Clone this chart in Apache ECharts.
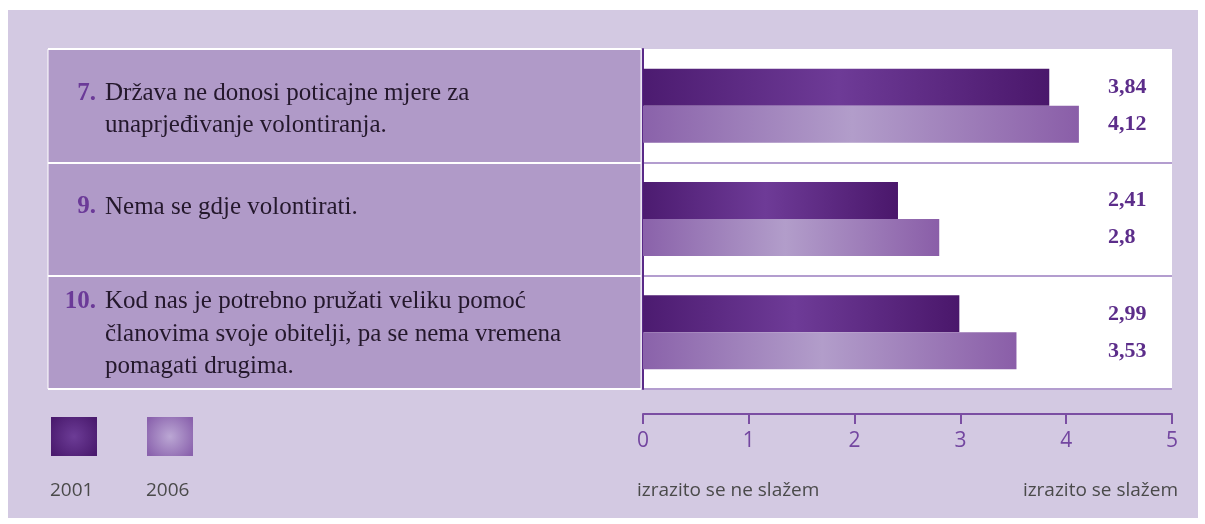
<!DOCTYPE html>
<html><head><meta charset="utf-8">
<script src="https://cdn.jsdelivr.net/npm/echarts@6/dist/echarts.min.js"></script>
<style>
html,body{margin:0;padding:0;background:#fff;}
#panel{position:absolute;left:8px;top:10px;width:1190px;height:508px;background:#d3c9e2;}
#chart{position:absolute;left:0;top:0;width:1205px;height:524px;}
</style></head>
<body><div id="panel"></div><div id="chart"></div>
<script>
// ---- data ----
const itemNumbers = ['7.', '9.', '10.'];
const categories = [
  'Država ne donosi poticajne mjere za\nunaprjeđivanje volontiranja.',
  'Nema se gdje volontirati.',
  'Kod nas je potrebno pružati veliku pomoć\nčlanovima svoje obitelji, pa se nema vremena\npomagati drugima.'
];
const seriesNames = ['2001', '2006'];
const values2001 = [3.84, 2.41, 2.99];
const values2006 = [4.12, 2.8, 3.53];
const xMin = 0, xMax = 5, xStep = 1;
const axisEndLabels = ['izrazito se ne slažem', 'izrazito se slažem'];

// ---- styles ----
const BAR_W = 37;
const LINE_H = 32.5;
const textNudge = [4, -12, 2];
const serif = '"Liberation Serif", "DejaVu Serif", serif';
const sans = '"Open Sans", "Noto Sans", sans-serif';
const lg = (c) => new echarts.graphic.LinearGradient(0, 0, 1, 0, [
  {offset: 0, color: c[0]}, {offset: 0.48, color: c[1]}, {offset: 1, color: c[2]}]);
const rg = (c) => new echarts.graphic.RadialGradient(0.5, 0.5, 0.7, [
  {offset: 0, color: c[0]}, {offset: 1, color: c[1]}]);
const darkStops = ['#4c1b70', '#6e3b97', '#4a176b'];
const lightStops = ['#8a62aa', '#b29dca', '#8a5ea8'];

const chart = echarts.init(document.getElementById('chart'));
const option = {
  animation: false,
  grid: [
    {left: 643, right: 33, top: 49, bottom: 135, show: true, backgroundColor: '#ffffff', borderWidth: 0},
    {left: 48, right: 564, top: 49, bottom: 135, show: true, backgroundColor: '#b09ac8', borderColor: '#ffffff', borderWidth: 1}
  ],
  xAxis: [
    {type: 'value', gridIndex: 0, min: xMin, max: xMax, interval: xStep, offset: 25,
     axisLine: {show: true, lineStyle: {color: '#7b4ea3', width: 2}},
     axisTick: {show: true, length: 10, lineStyle: {color: '#7b4ea3', width: 2}},
     axisLabel: {margin: 17, color: '#7346a0', fontSize: 21, fontFamily: sans},
     splitLine: {show: false}},
    {type: 'value', gridIndex: 1, min: 0, max: 1, show: false}
  ],
  yAxis: [
    {type: 'category', gridIndex: 0, data: itemNumbers, inverse: true,
     axisLine: {show: true, lineStyle: {color: '#5a2a88', width: 2}},
     axisTick: {show: false}, axisLabel: {show: false},
     splitLine: {show: true, interval: (idx) => idx > 0 && idx < itemNumbers.length, lineStyle: {color: '#b39dcf', width: 2}}},
    {type: 'category', gridIndex: 1, data: itemNumbers, inverse: true,
     axisLine: {show: false}, axisTick: {show: false}, axisLabel: {show: false},
     splitLine: {show: true, lineStyle: {color: '#ffffff', width: 2}}}
  ],
  series: [
    {name: seriesNames[0], type: 'bar', xAxisIndex: 0, yAxisIndex: 0, data: values2001,
     barWidth: BAR_W, barGap: '0%', itemStyle: {color: lg(darkStops)}},
    {name: seriesNames[1], type: 'bar', xAxisIndex: 0, yAxisIndex: 0, data: values2006,
     barWidth: BAR_W, barGap: '0%', itemStyle: {color: lg(lightStops)}}
  ]
};
chart.setOption(option);

const g = [];
const allVals = [values2001, values2006];
itemNumbers.forEach((num, i) => {
  const cy = chart.convertToPixel({yAxisIndex: 1}, i) + textNudge[i];
  const lines = categories[i].split('\n').length;
  const firstY = cy - (lines - 1) * LINE_H / 2;
  g.push({type: 'text', x: 96, y: firstY, style: {text: num, align: 'right', verticalAlign: 'middle',
    font: 'bold 25px ' + serif, fill: '#6b3a98'}});
  g.push({type: 'text', x: 105, y: cy, style: {text: categories[i], align: 'left', verticalAlign: 'middle',
    font: '25px ' + serif, fill: '#24182c', lineHeight: LINE_H}});
  const bc = chart.convertToPixel({yAxisIndex: 0}, i);
  allVals.forEach((arr, s) => {
    const y = bc + (s === 0 ? -BAR_W / 2 : BAR_W / 2);
    g.push({type: 'text', x: 1108, y: y, style: {text: String(arr[i]).replace('.', ','), align: 'left',
      verticalAlign: 'middle', font: 'bold 22px ' + serif, fill: '#5c2d8a'}});
  });
});
// legend
[[['#6c3c96', '#4a1a6e'], 51], [['#bba7d4', '#8a62ad'], 147]].forEach((it, s) => {
  g.push({type: 'rect', shape: {x: it[1], y: 417, width: 46, height: 39}, style: {fill: rg(it[0])}});
  g.push({type: 'text', x: it[1] - 1, y: 491, style: {text: seriesNames[s], align: 'left', verticalAlign: 'middle',
    font: '19px ' + sans, fill: '#4a4a4a'}});
});
g.push({type: 'text', x: 637, y: 491, style: {text: axisEndLabels[0], align: 'left', verticalAlign: 'middle',
  font: '19px ' + sans, fill: '#4a4a4a'}});
g.push({type: 'text', x: 1178, y: 491, style: {text: axisEndLabels[1], align: 'right', verticalAlign: 'middle',
  font: '19px ' + sans, fill: '#4a4a4a'}});
chart.setOption({graphic: g});
</script></body></html>
